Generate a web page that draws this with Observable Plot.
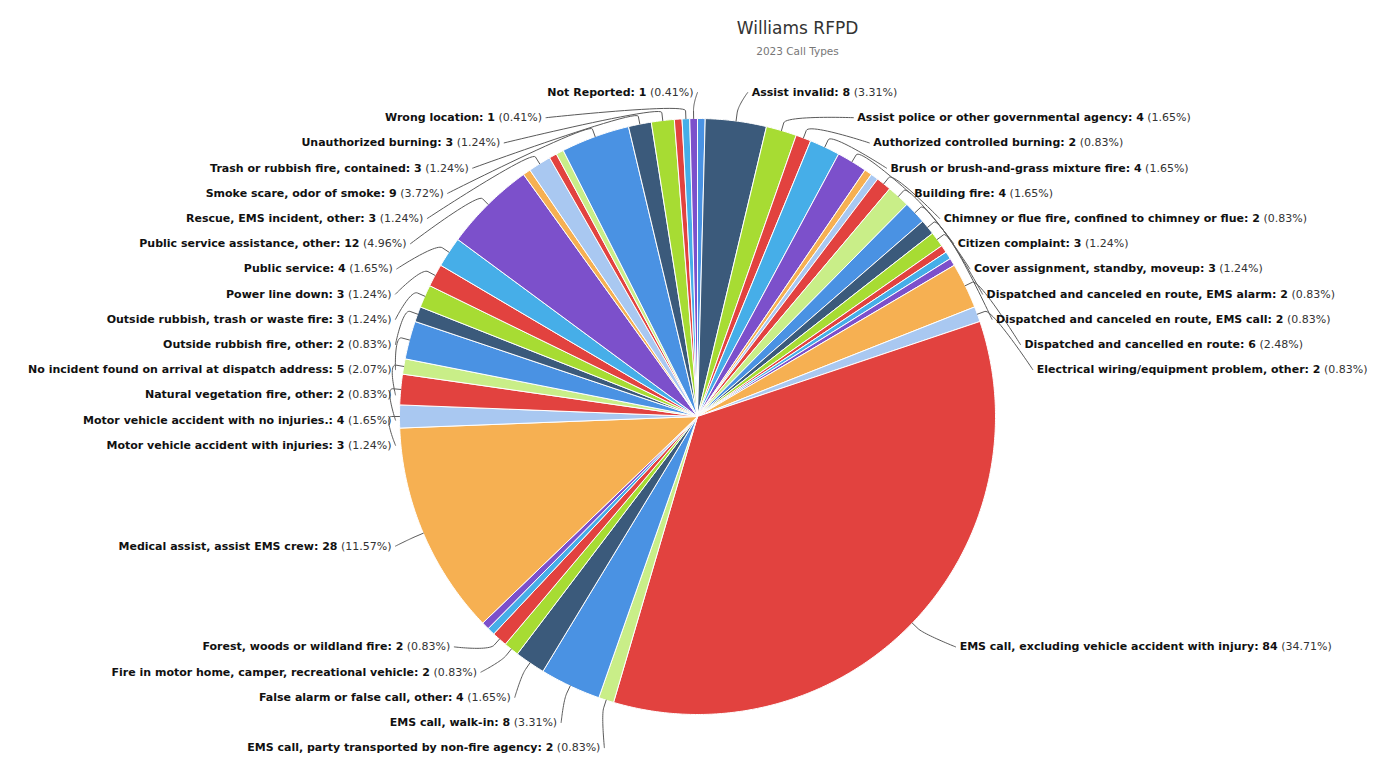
<!DOCTYPE html>
<html>
<head>
<meta charset="utf-8">
<script src="https://cdn.jsdelivr.net/npm/d3@7"></script>
<script src="https://cdn.jsdelivr.net/npm/@observablehq/plot@0.6"></script>
<style>
  html, body { margin: 0; padding: 0; background: #ffffff; }
  #chart { width: 1394px; height: 758px; overflow: hidden; }
</style>
</head>
<body>
<div id="chart"></div>
<script>
// ---------------- data ----------------
const chartTitle = "Williams RFPD";
const chartSubtitle = "2023 Call Types";

// Slices in drawing order (clockwise from 12 o'clock). Slices whose label is
// hidden in the reference are 1-call slices with no readable name.
const categories = [
  "(unlabeled slice 1)",
  "Assist invalid",
  "Assist police or other governmental agency",
  "Authorized controlled burning",
  "Brush or brush-and-grass mixture fire",
  "Building fire",
  "(unlabeled slice 2)",
  "(unlabeled slice 3)",
  "Chimney or flue fire, confined to chimney or flue",
  "Citizen complaint",
  "Cover assignment, standby, moveup",
  "Dispatched and canceled en route, EMS alarm",
  "Dispatched and canceled en route, EMS call",
  "(unlabeled slice 4)",
  "(unlabeled slice 5)",
  "(unlabeled slice 6)",
  "Dispatched and cancelled en route",
  "Electrical wiring/equipment problem, other",
  "EMS call, excluding vehicle accident with injury",
  "EMS call, party transported by non-fire agency",
  "EMS call, walk-in",
  "False alarm or false call, other",
  "Fire in motor home, camper, recreational vehicle",
  "Forest, woods or wildland fire",
  "(unlabeled slice 7)",
  "(unlabeled slice 8)",
  "Medical assist, assist EMS crew",
  "Motor vehicle accident with injuries",
  "Motor vehicle accident with no injuries.",
  "Natural vegetation fire, other",
  "No incident found on arrival at dispatch address",
  "Outside rubbish fire, other",
  "Outside rubbish, trash or waste fire",
  "Power line down",
  "Public service",
  "Public service assistance, other",
  "(unlabeled slice 9)",
  "Rescue, EMS incident, other",
  "(unlabeled slice 10)",
  "(unlabeled slice 11)",
  "Smoke scare, odor of smoke",
  "Trash or rubbish fire, contained",
  "Unauthorized burning",
  "(unlabeled slice 12)",
  "Wrong location",
  "Not Reported"
];
const values = [
  1, 8, 4, 2, 4, 4, 1, 1, 2, 3, 3, 2, 2, 1, 1, 1, 6, 2, 84, 2, 8, 4, 2, 2, 1, 1,
  28, 3, 4, 2, 5, 2, 3, 3, 4, 12, 1, 3, 1, 1, 9, 3, 3, 1, 1, 1
];
const labelShown = categories.map(c => !c.startsWith("(unlabeled"));

const palette = ["#4a92e3", "#3b5a7b", "#a7dc33", "#e2423f", "#46aee8",
                 "#7c50cb", "#f6b052", "#a9c8f1", "#e2423f", "#c9ee88"];

// ---------------- layout ----------------
const W = 1394, H = 758;
const cx = 697, cy = 416, r = 298;
const labelDistance = 30;
const slotTop = -324, slotStep = 25.2, slotCount = 27;
const fontFamily = "DejaVu Sans";
const labelSize = 11;

const total = d3.sum(values);
let acc = 0;
const slices = categories.map((name, i) => {
  const a0 = acc / total * 2 * Math.PI;
  acc += values[i];
  const a1 = acc / total * 2 * Math.PI;
  return {name, value: values[i], i, a0, a1, mid: (a0 + a1) / 2, color: palette[i % palette.length], shown: labelShown[i]};
});

// slice polygons (centre -> arc -> centre)
const slicePts = slices.flatMap(s => {
  const n = Math.max(2, Math.ceil((s.a1 - s.a0) / (Math.PI / 360)));
  const pts = [{name: s.name, x: 0, y: 0}];
  for (let k = 0; k <= n; k++) {
    const a = s.a0 + (s.a1 - s.a0) * k / n;
    pts.push({name: s.name, x: r * Math.sin(a), y: -r * Math.cos(a)});
  }
  pts.push({name: s.name, x: 0, y: 0});
  return pts;
});

// label layout (Highcharts-like slot distribution)
const labels = slices.filter(s => s.shown).map(s => {
  const sin = Math.sin(s.mid), cos = Math.cos(s.mid);
  return {...s, sin, cos, side: s.mid < Math.PI ? "right" : "left",
          ny: -(r + labelDistance) * cos,
          pct: (s.value / total * 100).toFixed(2)};
});
for (const side of ["right", "left"]) {
  const L = labels.filter(d => d.side === side).sort((a, b) => a.ny - b.ny);
  const idx = L.map(d => Math.max(0, Math.min(slotCount - 1, Math.round((d.ny - slotTop) / slotStep))));
  for (let k = 1; k < idx.length; k++) idx[k] = Math.max(idx[k], idx[k - 1] + 1);
  idx[idx.length - 1] = Math.min(idx[idx.length - 1], slotCount - 1);
  for (let k = idx.length - 2; k >= 0; k--) idx[k] = Math.min(idx[k], idx[k + 1] - 1);
  L.forEach((d, k) => { d.slot = idx[k]; d.ly = slotTop + idx[k] * slotStep; });
}
function circX(y, R) { const v = 1 - (y / R) ** 2; return v > 0 ? R * Math.sqrt(v) : 0; }
labels.forEach(d => {
  const edge = d.slot === 0 || d.slot === slotCount - 1;
  if (d.side === "right") {
    d.ax = edge ? 349 * Math.abs(d.sin) + 5
                : Math.min(circX(d.ly, 346), circX(d.ny, 349) + 5);
  } else {
    d.ax = -(edge ? circX(349 * d.cos, 345) : Math.min(circX(d.ly, 335), 302));
  }
});

// text measurement
const ctx = document.createElement("canvas").getContext("2d");
function tw(s, weight) { ctx.font = `${weight} ${labelSize}px "${fontFamily}"`; return ctx.measureText(s).width; }
const gap = tw(" ", "normal");
labels.forEach(d => {
  d.boldText = `${d.name}: ${d.value}`;
  d.pctText = `(${d.pct}%)`;
  const wb = tw(d.boldText, "bold"), wp = tw(d.pctText, "normal");
  if (d.side === "right") {
    d.bx = d.ax + 4;
    d.px = d.ax + 4 + wb + gap;
  } else {
    d.px = d.ax - 4;
    d.bx = d.ax - 4 - wp - gap;
  }
});

// connectors: label -> soft curve -> pie edge
const connPts = labels.flatMap(d => {
  const S = [d.ax, d.ly];
  const P2 = [(r + 8) * d.sin, -(r + 8) * d.cos];
  const C2 = [(r + 16) * d.sin, -(r + 16) * d.cos];
  const P3 = [r * d.sin, -r * d.cos];
  const pts = [];
  const n = 24;
  for (let k = 0; k <= n; k++) {
    const t = k / n, u = 1 - t;
    const x = u*u*u*S[0] + 3*u*u*t*S[0] + 3*u*t*t*C2[0] + t*t*t*P2[0];
    const y = u*u*u*S[1] + 3*u*u*t*S[1] + 3*u*t*t*C2[1] + t*t*t*P2[1];
    pts.push({name: d.name, x, y});
  }
  pts.push({name: d.name, x: P3[0], y: P3[1]});
  return pts;
});

const right = labels.filter(d => d.side === "right");
const left = labels.filter(d => d.side === "left");

const chart = Plot.plot({
  width: W,
  height: H,
  margin: 0,
  style: {fontFamily, background: "#ffffff"},
  x: {domain: [-cx, W - cx], range: [0, W], axis: null},
  y: {domain: [-cy, H - cy], range: [0, H], axis: null},
  color: {type: "ordinal", domain: categories, range: slices.map(s => s.color)},
  marks: [
    Plot.line(slicePts, {x: "x", y: "y", z: "name", fill: "name", stroke: "#ffffff", strokeWidth: 1, strokeLinejoin: "round", curve: "linear"}),
    Plot.line(connPts, {x: "x", y: "y", z: "name", stroke: "#5a5a5a", strokeWidth: 1, curve: "linear"}),
    Plot.text(right, {x: "bx", y: "ly", text: "boldText", textAnchor: "start", fontWeight: "bold", fontSize: labelSize, fill: "#111"}),
    Plot.text(right, {x: "px", y: "ly", text: "pctText", textAnchor: "start", fontSize: labelSize, fill: "#333"}),
    Plot.text(left, {x: "bx", y: "ly", text: "boldText", textAnchor: "end", fontWeight: "bold", fontSize: labelSize, fill: "#111"}),
    Plot.text(left, {x: "px", y: "ly", text: "pctText", textAnchor: "end", fontSize: labelSize, fill: "#333"}),
    Plot.text([chartTitle], {frameAnchor: "top", dx: 100, dy: 21, text: d => d, fontSize: 17, fill: "#333"}),
    Plot.text([chartSubtitle], {frameAnchor: "top", dx: 100, dy: 47, text: d => d, fontSize: 10.5, fill: "#777"})
  ]
});
document.getElementById("chart").appendChild(chart);
</script>
</body>
</html>
